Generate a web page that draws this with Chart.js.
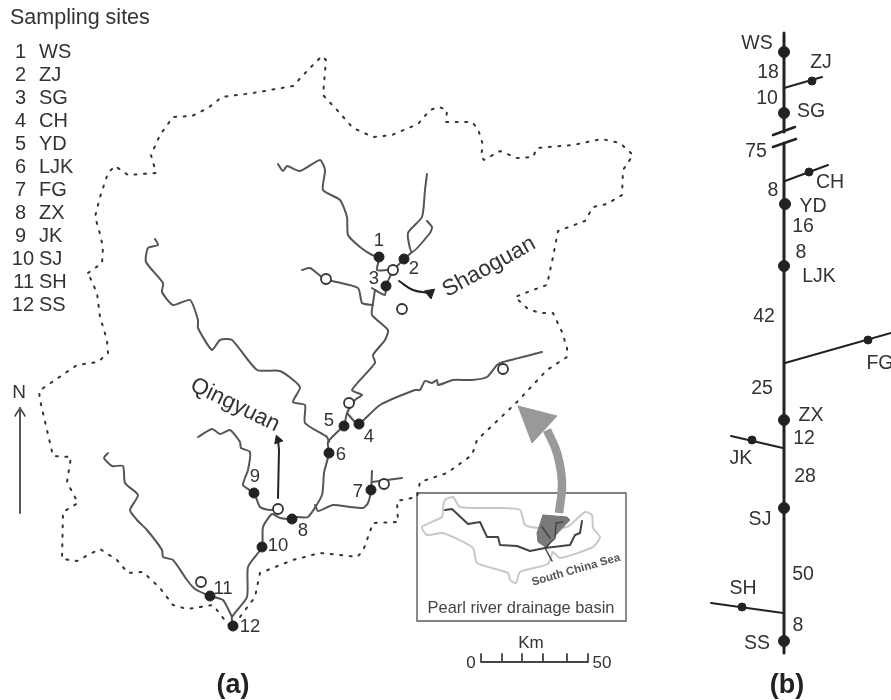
<!DOCTYPE html>
<html>
<head>
<meta charset="utf-8">
<title>Sampling sites</title>
<script src="https://cdn.jsdelivr.net/npm/chart.js@4/dist/chart.umd.js"></script>
<style>
  html, body { margin: 0; padding: 0; background: #fff; }
  canvas { display: block; }
</style>
</head>
<body>
<canvas id="map" width="891" height="700"></canvas>
<script>
// --- DATA (picture coordinates) ---
const boundary = [[88,273],[102,263],[103,247],[99,230],[95,217],[100,197],[108,173],[115,166],[128,175],[156,173],[151,155],[160,135],[173,117],[192,116],[208,108],[222,97],[253,93],[293,86],[308,70],[322,56],[326,60],[323,95],[337,110],[353,128],[373,137],[392,135],[418,124],[430,110],[439,107],[447,110],[446,122],[472,122],[478,129],[483,145],[481,156],[484,160],[500,151],[517,158],[533,157],[537,148],[573,145],[602,139],[620,143],[633,155],[623,170],[622,195],[607,204],[593,207],[585,221],[558,231],[553,257],[547,285],[533,290],[515,297],[528,309],[540,313],[553,313],[562,332],[567,348],[567,357],[547,370],[517,402],[477,440],[472,455],[447,473],[420,482],[417,497],[397,501],[398,522],[373,523],[363,551],[357,557],[340,555],[320,553],[293,560],[260,573],[255,597],[240,617],[233,628],[227,623],[213,605],[187,609],[173,605],[160,588],[143,572],[128,573],[117,560],[100,549],[88,555],[77,561],[62,559],[63,512],[78,503],[67,482],[71,457],[53,456],[40,400],[39,391],[77,365],[98,362],[108,353],[107,340],[100,317],[97,293],[88,273]];

const riverNorthWest = [[278,164],[283,171],[287,166],[300,171],[320,160],[325,170],[323,190],[340,200],[347,217],[348,235],[360,247],[372,255],[379,257],[377,270],[387,270],[393,270],[404,259],[412,252]];
const riverNorth = [[427,174],[425,190],[422,217],[408,233],[412,252],[430,233],[432,227],[427,221]];
const riverShaoguan = [[393,270],[386,286],[385,295],[375,290],[372,288]];
const riverMain = [[375,290],[373,303],[372,315],[388,330],[385,340],[373,355],[375,363],[352,390],[362,395],[355,400],[347,413],[344,425],[328,442],[329,453],[324,473],[322,495],[308,517],[297,517],[292,519],[280,518],[272,514],[263,527],[262,547],[248,567],[247,597],[232,617],[233,626]];
const riverWestTop = [[302,270],[310,268],[325,279],[358,288],[362,303],[373,305]];
const riverEast = [[347,413],[355,422],[359,424],[380,405],[415,390],[420,390],[425,381],[432,383],[437,380],[438,385],[453,380],[472,380],[487,377],[497,365],[503,362],[542,352]];
const riverWest = [[155,239],[158,245],[148,248],[146,262],[163,283],[162,292],[173,305],[190,300],[198,320],[198,328],[212,350],[220,340],[232,340],[257,370],[280,371],[300,387],[293,402],[305,405],[305,423],[327,437],[329,442]];
const riverSite7 = [[315,505],[318,511],[333,505],[350,507],[363,508],[368,503],[371,490],[372,471]];
const riverSite7Branch = [[372,482],[402,478]];
const riverSite9 = [[198,437],[212,429],[220,434],[230,430],[240,442],[241,448],[250,452],[248,470],[243,485],[254,493],[260,507],[270,510],[278,509]];
const riverSite11 = [[108,453],[104,458],[112,466],[123,466],[125,483],[138,495],[130,510],[137,520],[147,530],[162,550],[163,557],[173,560],[187,580],[195,589],[210,596],[223,600],[232,617]];
const riverLines = [riverNorthWest, riverNorth, riverShaoguan, riverMain, riverWestTop, riverEast, riverWest, riverSite7, riverSite7Branch, riverSite9, riverSite11];

const sitePoints = [[379,257],[404,259],[386,286],[359,424],[344,426],[329,453],[371,490],[292,519],[254,493],[262,547],[210,596],[233,626]];
const hollowPoints = [[393,270],[402,309],[326,279],[349,403],[503,369],[384,484],[278,509],[201,582]];

const arrowShaoguan = [[399,281],[413,290],[430,293]];
const arrowQingyuan = [[278,498],[279,450],[278,440]];
const northArrow = [[20,513],[20,408]];
const northArrowHead = [[15,416],[20,408],[25,416]];

const bigArrowShaft = [[559,513],[562,483],[557,453],[547,430]];
const bigArrowHead = [[518,406],[557,416],[532,443],[518,406]];

const insetBox = [[417,493],[626,493],[626,621],[417,621],[417,493]];
const insetOutline = [[443,508],[445,500],[453,497],[460,507],[497,508],[520,510],[525,525],[538,528],[567,527],[585,512],[592,515],[593,528],[600,537],[593,547],[560,558],[553,552],[548,564],[520,572],[516,583],[510,580],[508,573],[477,563],[473,548],[453,537],[442,533],[427,535],[422,527],[442,517],[443,508]];
const insetShade = [[543,515],[567,517],[570,520],[553,538],[547,548],[538,542],[537,533],[543,515]];
const insetRiver = [[445,510],[452,509],[468,524],[480,522],[487,537],[498,537],[500,545],[517,546],[530,551],[545,548],[570,545],[575,535],[580,533],[582,521]];
const insetBranches = [[[545,548],[552,561]],[[545,548],[555,538],[556,523],[563,522]],[[542,527],[550,538]]];

const scaleBar = [[481,654],[481,662],[502,662],[502,654],[502,662],[522,662],[522,654],[522,662],[543,662],[543,654],[543,662],[567,662],[567,654],[567,662],[588,662],[588,654]];

const trunkUpper = [[784,33],[784,132]];
const trunkLower = [[784,143],[784,653]];
const breakMarks = [[[773,135],[795,127]],[[773,147],[796,139]]];
const schematicBranches = [[[784,88],[822,77]],[[785,181],[828,165]],[[785,363],[891,333]],[[783,448],[731,436]],[[783,613],[711,603]]];
const mainstemSites = [[784,52],[784,113],[785,204],[784,266],[784,420],[784,508],[784,641]];
const branchSites = [[812,81],[809,172],[868,340],[752,440],[742,607]];

const legendTitle = 'Sampling sites';
const legendNumbers = ['1','2','3','4','5','6','7','8','9','10','11','12'];
const legendCodes = ['WS','ZJ','SG','CH','YD','LJK','FG','ZX','JK','SJ','SH','SS'];

const siteNumberLabels = [['1',379,241],['2',414,269],['3',374,279],['4',369,437],['5',329,421],['6',341,455],['7',358,492],['8',303,531],['9',255,477],['10',278,546],['11',223,589],['12',250,627]];
const schematicLabels = [['WS',757,44],['18',768,73],['ZJ',821,63],['10',767,99],['SG',811,112],['75',756,152],['CH',830,183],['8',773,191],['YD',813,207],['16',803,227],['8',801,253],['LJK',819,277],['42',764,317],['FG',880,364],['25',762,389],['ZX',811,416],['12',804,439],['JK',741,459],['28',805,477],['SJ',760,520],['50',803,575],['SH',743,589],['8',798,626],['SS',757,644]];
const scaleLabels = [['Km',531,643],['0',471,663],['50',602,663]];

const FONT = '"Liberation Sans", Arial, sans-serif';
const INK = '#333';
const RIVER = '#555';

// --- DATASET HELPERS ---
const line = (data, color, width, extra) => Object.assign({
    data, showLine: true, borderColor: color, borderWidth: width,
    pointRadius: 0, tension: 0, fill: false, borderJoinStyle: 'round', borderCapStyle: 'round'
}, extra);

const dots = (data, radius, fill, border, width, extra) => Object.assign({
    data, showLine: false, pointRadius: radius, pointBackgroundColor: fill,
    pointBorderColor: border, pointBorderWidth: width
}, extra);

const datasets = [
    // first dataset ends up on top
    dots(sitePoints, 5, '#222', '#222', 1),
    dots(mainstemSites, 5.5, '#222', '#222', 1),
    dots(branchSites, 4, '#222', '#222', 1),
    dots(hollowPoints, 5, '#fff', INK, 1.8),
    dots([arrowShaoguan[2]], 6, '#222', '#222', 1, { pointStyle: 'triangle', pointRotation: 170 }),
    dots([arrowQingyuan[2]], 5, '#222', '#222', 1, { pointStyle: 'triangle', pointRotation: -20 }),
    ...riverLines.map(r => line(r, RIVER, 2, { tension: 0.2 })),
    line(boundary, INK, 2, { borderDash: [2, 7.5] }),
    line(arrowShaoguan, '#222', 2, { tension: 0.4 }),
    line(arrowQingyuan, '#222', 2),
    line(northArrow, '#555', 2),
    line(northArrowHead, '#444', 1.5),
    line(insetRiver, '#444', 2),
    ...insetBranches.map(b => line(b, '#444', 1.5)),
    line(insetShade, '#777', 1, { fill: 'shape', backgroundColor: '#7a7a7a' }),
    line(insetOutline, '#c8c8c8', 2, { tension: 0.2 }),
    line(bigArrowHead, '#999', 1, { fill: 'shape', backgroundColor: '#999' }),
    line(bigArrowShaft, '#999', 8.5, { tension: 0.4, borderCapStyle: 'butt' }),
    line(insetBox, '#808080', 1.8),
    line(scaleBar, '#444', 1.8),
    line(trunkUpper, '#222', 3, { borderCapStyle: 'butt' }),
    line(trunkLower, '#222', 3, { borderCapStyle: 'butt' }),
    ...breakMarks.map(b => line(b, '#222', 2.5)),
    ...schematicBranches.map(b => line(b, '#222', 2))
];

// --- TEXT PLUGIN ---
const mapText = {
    id: 'mapText',
    afterDatasetsDraw(chart) {
        const { ctx, scales: { x, y } } = chart;
        const put = (text, px, py, font, opts = {}) => {
            ctx.save();
            ctx.translate(x.getPixelForValue(px), y.getPixelForValue(py));
            if (opts.angle) ctx.rotate(opts.angle * Math.PI / 180);
            ctx.font = font;
            ctx.fillStyle = opts.color || INK;
            ctx.textAlign = opts.align || 'center';
            ctx.textBaseline = 'middle';
            ctx.fillText(text, 0, 0);
            ctx.restore();
        };
        const base = `20px ${FONT}`;

        put(legendTitle, 10, 18, `21.5px ${FONT}`, { align: 'left' });
        legendNumbers.forEach((n, i) => {
            const row = 52 + i * 23;
            put(n, n.length > 1 ? 34 : 26, row, base, { align: 'right' });
            put(legendCodes[i], 39, row, base, { align: 'left' });
        });

        siteNumberLabels.forEach(([t, px, py]) => put(t, px, py, `18.5px ${FONT}`));
        schematicLabels.forEach(([t, px, py]) => put(t, px, py, `19.5px ${FONT}`));
        scaleLabels.forEach(([t, px, py]) => put(t, px, py, `17px ${FONT}`));

        put('N', 19, 393, `19px ${FONT}`);
        put('Shaoguan', 489, 267, `22.5px ${FONT}`, { angle: -29 });
        put('Qingyuan', 235, 405, `22.5px ${FONT}`, { angle: 26 });
        put('South China Sea', 576, 570, `bold 11.5px ${FONT}`, { angle: -16, color: '#555' });
        put('Pearl river drainage basin', 521, 608, `16.4px ${FONT}`, { color: '#444' });
        put('(a)', 233, 686, `bold 27px ${FONT}`, { color: '#222' });
        put('(b)', 787, 686, `bold 27px ${FONT}`, { color: '#222' });
    }
};

new Chart(document.getElementById('map'), {
    type: 'scatter',
    data: { datasets },
    options: {
        responsive: false,
        animation: false,
        layout: { padding: 0, autoPadding: false },
        plugins: { legend: { display: false }, tooltip: { enabled: false } },
        scales: {
            x: { type: 'linear', min: 0, max: 891, display: false },
            y: { type: 'linear', min: 0, max: 700, reverse: true, display: false }
        }
    },
    plugins: [mapText]
});
</script>
</body>
</html>
